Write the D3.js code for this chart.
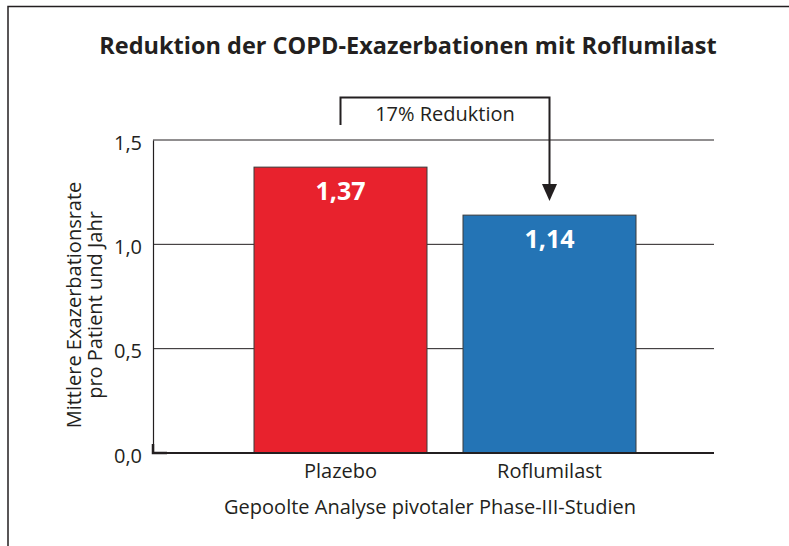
<!DOCTYPE html>
<html>
<head>
	<meta charset="utf-8">
	<title>Reduktion der COPD-Exazerbationen</title>
	<script src="https://d3js.org/d3.v7.min.js"></script>
	<style>
		body { margin: 0; background: #fff; }
		text { font-family: "Open Sans", "Noto Sans", sans-serif; fill: #231f20; }
	</style>
</head>
<body>
	<svg width="789" height="546" id="chart"></svg>
<script>
	// data
	var categories = ["Plazebo", "Roflumilast"]
	var values = [1.37, 1.14]
	var valueLabels = ["1,37", "1,14"]
	var barColors = ["#e8222d", "#2474b5"]
	var yTicks = [0, 0.5, 1.0, 1.5]
	var yTickLabels = ["0,0", "0,5", "1,0", "1,5"]
	var title = "Reduktion der COPD-Exazerbationen mit Roflumilast"
	var yTitle = ["Mittlere Exazerbationsrate", "pro Patient und Jahr"]
	var xTitle = "Gepoolte Analyse pivotaler Phase-III-Studien"
	var annotation = "17% Reduktion"

	var svg = d3.select("#chart")
	var margin = {top: 140, left: 153, right: 75, bottom: 93}
	var width = 789 - margin.left - margin.right
	var height = 546 - margin.top - margin.bottom

	// frame (top + left line)
	svg.append("path")
		.attr("d", "M8,546 V6.5 H789")
		.attr("fill", "none")
		.attr("stroke", "#231f20")
		.attr("stroke-width", 1.5)

	svg.append("text")
		.attr("x", 408).attr("y", 54)
		.attr("text-anchor", "middle")
		.style("font-size", "23.5px")
		.style("font-weight", "bold")
		.text(title)

	var g = svg.append("g").attr("transform", "translate(" + margin.left + "," + margin.top + ")")

	var x = d3.scaleBand().domain(categories).range([101, 483]).paddingInner(36 / 209).paddingOuter(0)
	var y = d3.scaleLinear().domain([0, 1.5]).range([height, 0])

	// gridlines
	g.selectAll(".grid").data(yTicks.filter(function(d) { return d > 0 }))
		.enter().append("line")
		.attr("x1", 0).attr("x2", width)
		.attr("y1", function(d) { return y(d) }).attr("y2", function(d) { return y(d) })
		.attr("stroke", "#231f20").attr("stroke-width", 1)

	// bars
	g.selectAll(".bar").data(values)
		.enter().append("rect")
		.attr("x", function(d, i) { return x(categories[i]) })
		.attr("y", function(d) { return y(d) })
		.attr("width", x.bandwidth())
		.attr("height", function(d) { return height - y(d) })
		.attr("fill", function(d, i) { return barColors[i] })
		.attr("stroke", "#3a3a3a").attr("stroke-width", 1)

	g.selectAll(".vlabel").data(values)
		.enter().append("text")
		.attr("x", function(d, i) { return x(categories[i]) + x.bandwidth() / 2 })
		.attr("y", function(d) { return y(d) + 33 })
		.attr("text-anchor", "middle")
		.style("font-size", "25px").style("font-weight", "bold")
		.style("fill", "#fff")
		.text(function(d, i) { return valueLabels[i] })

	// y axis
	var yAxis = g.append("g")
		.call(d3.axisLeft(y).tickValues(yTicks).tickSize(0).tickPadding(11)
			.tickFormat(function(d, i) { return yTickLabels[i] }))
	yAxis.select(".domain").attr("stroke", "#231f20").attr("stroke-width", 1.2)
	yAxis.selectAll("text").style("font-size", "20px").attr("dy", "0.45em")

	// x axis
	var xAxis = g.append("g")
		.attr("transform", "translate(0," + height + ")")
		.call(d3.axisBottom(x).tickSize(0).tickPadding(8))
	xAxis.select(".domain").remove()
	xAxis.selectAll("text").style("font-size", "20px").attr("dy", "0.85em")
	g.append("line")
		.attr("x1", 0).attr("x2", width)
		.attr("y1", height).attr("y2", height)
		.attr("stroke", "#231f20").attr("stroke-width", 2)
	g.append("path")
		.attr("d", "M0," + (height - 9) + " V" + height + " H14")
		.attr("fill", "none").attr("stroke", "#231f20").attr("stroke-width", 2.5)

	// axis titles
	svg.append("text")
		.attr("transform", "translate(" + 81 + "," + 305 + ") rotate(-90)")
		.attr("text-anchor", "middle")
		.style("font-size", "20px")
		.text(yTitle[0])
	svg.append("text")
		.attr("transform", "translate(" + 102 + "," + 305 + ") rotate(-90)")
		.attr("text-anchor", "middle")
		.style("font-size", "20px")
		.text(yTitle[1])

	svg.append("text")
		.attr("x", 430).attr("y", 514)
		.attr("text-anchor", "middle")
		.style("font-size", "20px")
		.text(xTitle)

	// reduction bracket + arrow
	var xa = margin.left + x(categories[0]) + x.bandwidth() / 2
	var xb = margin.left + x(categories[1]) + x.bandwidth() / 2
	var tipY = margin.top + y(values[1]) - 14
	svg.append("path")
		.attr("d", "M" + xa + ",125 V97.5 H" + xb + " V" + (tipY - 14))
		.attr("fill", "none").attr("stroke", "#231f20").attr("stroke-width", 2)
	svg.append("path")
		.attr("d", "M" + (xb - 7.5) + "," + (tipY - 17) + " L" + (xb + 7.5) + "," + (tipY - 17) + " L" + xb + "," + tipY + " Z")
		.attr("fill", "#231f20")
	svg.append("text")
		.attr("x", 445).attr("y", 121)
		.attr("text-anchor", "middle")
		.style("font-size", "20px")
		.text(annotation)
</script>
</body>
</html>
